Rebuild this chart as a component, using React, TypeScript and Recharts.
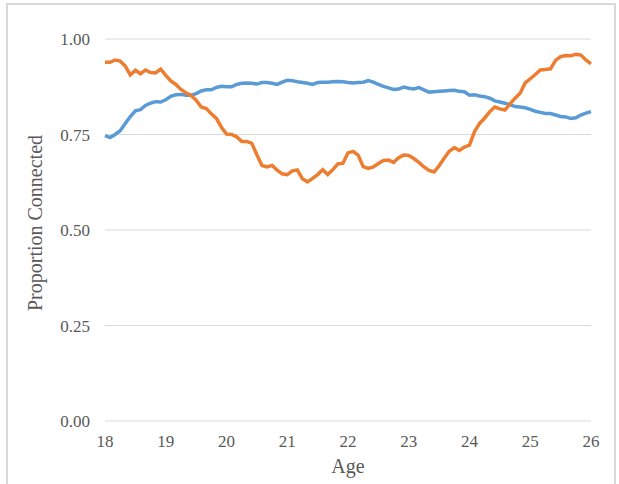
import React from 'react';
import { LineChart, Line, XAxis, YAxis, CartesianGrid } from 'recharts';

// Monthly observations from age 18 to 26
const startAge = 18;
const monthsPerYear = 12;

const xTicks = [18, 19, 20, 21, 22, 23, 24, 25, 26];
const yTicks = [0, 0.25, 0.5, 0.75, 1];

const blueSeries = [
  0.747, 0.742, 0.750, 0.760, 0.779, 0.797, 0.812, 0.815, 0.826, 0.832, 0.836, 0.835,
  0.841, 0.850, 0.854, 0.855, 0.853, 0.853, 0.857, 0.864, 0.867, 0.867, 0.873, 0.876,
  0.875, 0.875, 0.881, 0.884, 0.885, 0.884, 0.882, 0.886, 0.886, 0.884, 0.881, 0.887,
  0.892, 0.891, 0.888, 0.886, 0.884, 0.881, 0.886, 0.887, 0.887, 0.888, 0.889, 0.888,
  0.886, 0.885, 0.886, 0.887, 0.891, 0.887, 0.881, 0.876, 0.872, 0.868, 0.869, 0.874,
  0.871, 0.869, 0.873, 0.867, 0.861, 0.862, 0.863, 0.864, 0.865, 0.866, 0.863, 0.862,
  0.853, 0.854, 0.851, 0.849, 0.845, 0.838, 0.835, 0.832, 0.828, 0.823, 0.822, 0.820,
  0.816, 0.811, 0.808, 0.805, 0.805, 0.801, 0.797, 0.796, 0.792, 0.794, 0.801, 0.806,
  0.810,
];

const orangeSeries = [
  0.939, 0.939, 0.945, 0.942, 0.929, 0.906, 0.918, 0.909, 0.919, 0.912, 0.911, 0.921,
  0.905, 0.890, 0.881, 0.868, 0.859, 0.852, 0.840, 0.822, 0.818, 0.804, 0.792, 0.769,
  0.751, 0.750, 0.744, 0.732, 0.732, 0.727, 0.697, 0.669, 0.665, 0.669, 0.657, 0.647,
  0.645, 0.655, 0.657, 0.634, 0.626, 0.635, 0.645, 0.658, 0.645, 0.658, 0.673, 0.675,
  0.702, 0.706, 0.696, 0.666, 0.661, 0.665, 0.674, 0.682, 0.683, 0.677, 0.689, 0.696,
  0.695, 0.687, 0.677, 0.665, 0.656, 0.652, 0.668, 0.688, 0.706, 0.716, 0.708, 0.717,
  0.722, 0.758, 0.779, 0.793, 0.810, 0.822, 0.817, 0.814, 0.830, 0.845, 0.858, 0.885,
  0.896, 0.907, 0.919, 0.920, 0.922, 0.944, 0.954, 0.957, 0.956, 0.960, 0.958, 0.945,
  0.935,
];

const data = blueSeries.map((b, i) => ({
  age: startAge + i / monthsPerYear,
  blue: b,
  orange: orangeSeries[i],
}));

const FONT = '"Liberation Serif", "Times New Roman", serif';
const TEXT = '#595959';

export default function App() {
  return (
    <div
      style={{
        position: 'absolute',
        left: 0,
        top: 0,
        width: 619,
        height: 484,
        overflow: 'hidden',
        background: '#ffffff',
        fontFamily: FONT,
      }}
    >
      <div
        style={{
          position: 'absolute',
          left: 6,
          top: 3,
          width: 610,
          height: 520,
          border: '2px solid #d9d9d9',
          boxSizing: 'border-box',
        }}
      />
      <div style={{ position: 'absolute', left: 0, top: 0 }}>
        <LineChart
          width={619}
          height={484}
          data={data}
          margin={{ top: 39, right: 28, bottom: 33, left: 0 }}
        >
          <CartesianGrid vertical={false} stroke="#d9d9d9" strokeWidth={1} />
          <XAxis
            dataKey="age"
            type="number"
            domain={[18, 26]}
            ticks={xTicks}
            allowDecimals={false}
            axisLine={false}
            tickLine={false}
            tickMargin={8}
            height={30}
            tick={{ fill: TEXT, fontSize: 17, fontFamily: FONT }}
            label={{
              value: 'Age',
              position: 'bottom',
              offset: 8,
              fill: TEXT,
              fontSize: 20,
              fontFamily: FONT,
            }}
          />
          <YAxis
            type="number"
            domain={[0, 1]}
            ticks={yTicks}
            width={105}
            axisLine={false}
            tickLine={false}
            tickMargin={9}
            tickFormatter={(v: number) => v.toFixed(2)}
            tick={{ fill: TEXT, fontSize: 17, fontFamily: FONT }}
            label={{
              value: 'Proportion Connected',
              angle: -90,
              position: 'insideLeft',
              dx: 30,
              dy: -7,
              fill: TEXT,
              fontSize: 20,
              fontFamily: FONT,
              style: { textAnchor: 'middle' },
            }}
          />
          <Line
            type="linear"
            dataKey="blue"
            stroke="#5B9BD5"
            strokeWidth={3.5}
            dot={false}
            isAnimationActive={false}
          />
          <Line
            type="linear"
            dataKey="orange"
            stroke="#ED7D31"
            strokeWidth={3.5}
            dot={false}
            isAnimationActive={false}
          />
        </LineChart>
      </div>
    </div>
  );
}
